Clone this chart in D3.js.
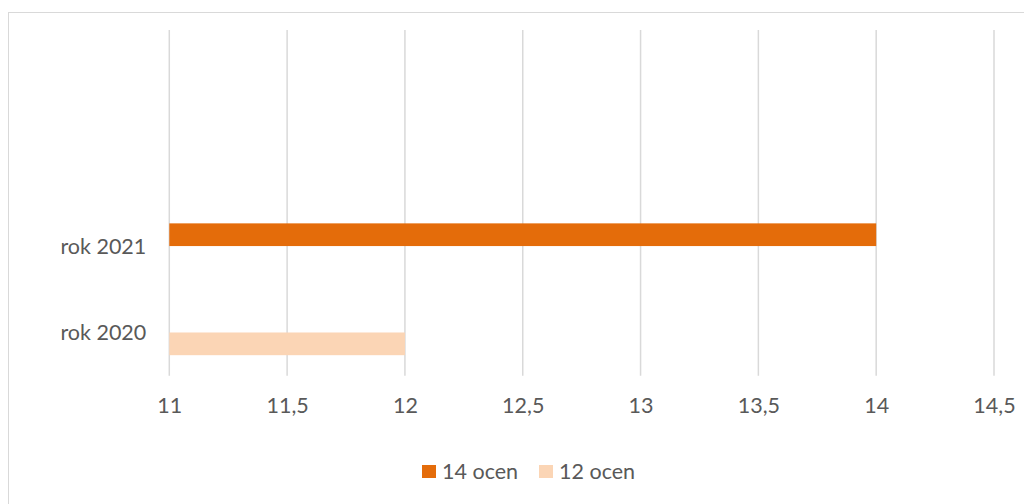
<!DOCTYPE html>
<html><head><meta charset="utf-8">
<script src="https://cdn.jsdelivr.net/npm/d3@7"></script>
<style>
html,body{margin:0;padding:0;background:#fff;overflow:hidden}
text{font-family:Lato,"Open Sans",sans-serif;fill:#595959}
</style></head>
<body>
<svg id="c" width="1024" height="504"></svg>
<script>
// categories listed top to bottom (two unnamed empty slots at the top)
const categories = ["", " ", "rok 2021", "rok 2020"];
const seriesNames = ["14 ocen", "12 ocen"];
const ocen14 = [null, null, 14, null];
const ocen12 = [null, null, null, 12];
const tickValues = [11, 11.5, 12, 12.5, 13, 13.5, 14, 14.5];
const seriesColors = ["#E46C0A", "#FBD5B5"];

(function () {
const FS = 21.5;
const svg = d3.select("#c");
svg.append("rect").attr("x", 8.5).attr("y", 12.5).attr("width", 1030).attr("height", 520)
  .attr("fill", "none").attr("stroke", "#d9d9d9").attr("stroke-width", 1);

const pL = 169.3, pR = 994, pT = 30, pB = 375.7;
const x = d3.scaleLinear().domain([11, 14.5]).range([pL, pR]);
const y = d3.scaleBand().domain(categories).range([pT, pB]).padding(0);
const step = y.step();
const barH = 22.7;
const sub = d3.scaleBand().domain(seriesNames).range([step / 2 - barH, step / 2 + barH]);

// gridlines
svg.append("g").selectAll("line").data(tickValues).join("line")
  .attr("x1", d => x(d)).attr("x2", d => x(d))
  .attr("y1", pT).attr("y2", pB)
  .attr("stroke", "#d9d9d9").attr("stroke-width", 1.5);

// bars
[ocen14, ocen12].forEach((vals, si) => {
  const rows = categories.map((c, i) => ({c, v: vals[i]})).filter(d => d.v != null);
  svg.append("g").selectAll("rect").data(rows).join("rect")
    .attr("x", x(11))
    .attr("y", d => y(d.c) + sub(seriesNames[si]))
    .attr("width", d => x(d.v) - x(11))
    .attr("height", sub.bandwidth())
    .attr("fill", seriesColors[si]);
});

// x axis labels
const xa = svg.append("g").attr("transform", `translate(0,${pB})`)
  .call(d3.axisBottom(x).tickValues(tickValues).tickSize(0).tickPadding(0)
    .tickFormat(d => String(d).replace(".", ",")));
xa.select(".domain").remove();
xa.selectAll("text").attr("y", 37.5).attr("dy", 0).attr("font-size", FS)
  .attr("font-family", "Lato, 'Open Sans', sans-serif").attr("fill", "#595959");

// y axis labels
const ya = svg.append("g").attr("transform", `translate(${pL},${step / 2})`)
  .call(d3.axisLeft(y).tickSize(0).tickPadding(23));
ya.select(".domain").remove();
ya.selectAll(".tick").attr("transform", d => `translate(0,${y(d)})`);
ya.selectAll("text").attr("dy", "0.35em").attr("font-size", FS)
  .attr("font-family", "Lato, 'Open Sans', sans-serif").attr("fill", "#595959");

// legend
const legX = [422, 539];
const lg = svg.append("g");
seriesNames.forEach((n, i) => {
  lg.append("rect").attr("x", legX[i]).attr("y", 465).attr("width", 14).attr("height", 13).attr("fill", seriesColors[i]);
  lg.append("text").attr("x", legX[i] + 20).attr("y", 478.5).attr("font-size", FS).text(n);
});
})();
</script>
</body></html>
